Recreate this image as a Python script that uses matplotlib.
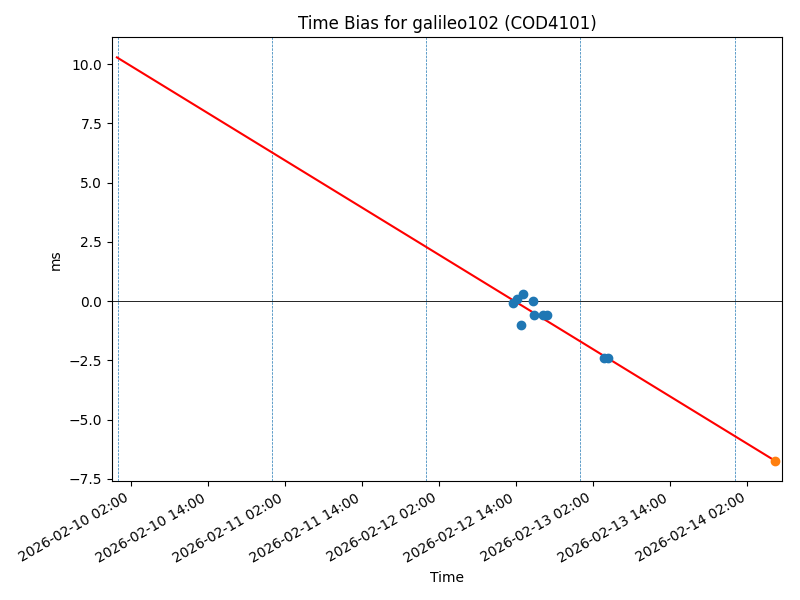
import matplotlib
matplotlib.use("Agg")
import matplotlib.pyplot as plt
import matplotlib.dates as mdates
import numpy as np
from datetime import datetime

# measured time bias points (ms)
obs_times = ["2026-02-12 13:30", "2026-02-12 14:10", "2026-02-12 15:05",
             "2026-02-12 14:47", "2026-02-12 16:38", "2026-02-12 16:48",
             "2026-02-12 18:12", "2026-02-12 18:50", "2026-02-13 03:42",
             "2026-02-13 04:20"]
obs_bias = [-0.1, 0.1, 0.3, -1.0, 0.0, -0.6, -0.6, -0.6, -2.4, -2.4]

# linear fit
fit_times = ["2026-02-09 23:49", "2026-02-14 06:22"]
fit_bias = [10.29, -6.75]

# predicted point
pred_time = ["2026-02-14 06:22"]
pred_bias = [-6.75]

# day boundaries
day_lines = ["2026-02-10 00:00", "2026-02-11 00:00", "2026-02-12 00:00",
             "2026-02-13 00:00", "2026-02-14 00:00"]

xlim = ["2026-02-09 23:03", "2026-02-14 07:27"]

fmt = "%Y-%m-%d %H:%M"
conv = lambda lst: [datetime.strptime(s, fmt) for s in lst]

fig, ax = plt.subplots(figsize=(8, 6), dpi=100)

for d in conv(day_lines):
    ax.axvline(d, color="C0", linestyle="--", linewidth=0.5)
ax.axhline(0, color="black", linewidth=0.6)

ax.plot(conv(fit_times), fit_bias, color="red")
ax.plot(conv(obs_times), obs_bias, "o", color="C0")
ax.plot(conv(pred_time), pred_bias, "o", color="C1")

ax.set_xlim(conv(xlim))
ax.xaxis.set_major_locator(mdates.HourLocator(byhour=[2, 14]))
ax.xaxis.set_major_formatter(mdates.DateFormatter("%Y-%m-%d %H:%M"))

ax.set_title("Time Bias for galileo102 (COD4101)")
ax.set_xlabel("Time")
ax.set_ylabel("ms")
fig.autofmt_xdate()
fig.subplots_adjust(left=0.14, right=0.978, top=0.938, bottom=0.198)
fig.savefig("out.png")
